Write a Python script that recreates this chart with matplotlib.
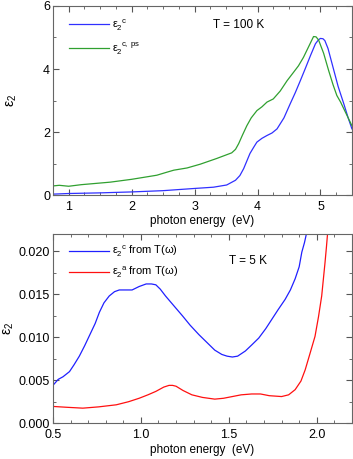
import matplotlib
matplotlib.use("Agg")
import matplotlib.pyplot as plt
from matplotlib.ticker import MultipleLocator

plt.rcParams['font.family'] = ['Liberation Sans', 'DejaVu Sans']
plt.rcParams['mathtext.fontset'] = 'custom'
plt.rcParams['mathtext.rm'] = 'Liberation Sans'
plt.rcParams['mathtext.it'] = 'Liberation Sans'

# top panel, T = 100 K
e_c = [0.75, 1.0, 1.5, 2.0, 2.5, 3.0, 3.3, 3.51, 3.65, 3.72, 3.78, 3.83, 3.88, 3.94,
       3.99, 4.07, 4.15, 4.23, 4.31, 4.42, 4.52, 4.6, 4.68, 4.76, 4.84, 4.92, 4.97,
       5.0, 5.04, 5.07, 5.12, 5.2, 5.28, 5.37, 5.44, 5.5]
eps_c = [0.03, 0.05, 0.07, 0.1, 0.14, 0.21, 0.25, 0.32, 0.47, 0.62, 0.84, 1.08, 1.32, 1.52,
         1.68, 1.8, 1.89, 1.97, 2.1, 2.45, 2.9, 3.25, 3.63, 4.02, 4.42, 4.8, 4.93,
         4.97, 4.96, 4.9, 4.65, 4.05, 3.45, 2.9, 2.45, 2.1]

e_ps = [0.75, 0.85, 1.0, 1.2, 1.66, 2.0, 2.4, 2.55, 2.67, 2.88, 3.09, 3.35, 3.59, 3.65,
        3.7, 3.76, 3.83, 3.9, 3.99, 4.07, 4.15, 4.25, 4.36, 4.47, 4.57, 4.65, 4.73,
        4.81, 4.89, 4.93, 4.97, 5.05, 5.13, 5.2, 5.26, 5.32, 5.37, 5.44, 5.5]
eps_ps = [0.29, 0.31, 0.28, 0.33, 0.41, 0.5, 0.63, 0.72, 0.79, 0.86, 0.98, 1.16, 1.34, 1.45,
          1.63, 1.9, 2.2, 2.45, 2.68, 2.8, 2.95, 3.05, 3.3, 3.63, 3.89, 4.1, 4.37,
          4.7, 5.03, 5.02, 4.92, 4.5, 3.95, 3.5, 3.16, 2.95, 2.74, 2.45, 2.2]

# bottom panel, T = 5 K
e_tc = [0.5, 0.53, 0.557, 0.594, 0.62, 0.65, 0.68, 0.71, 0.74, 0.764, 0.79, 0.82, 0.85,
        0.877, 0.92, 0.95, 0.99, 1.03, 1.06, 1.085, 1.11, 1.14, 1.19, 1.236, 1.28, 1.33,
        1.38, 1.42, 1.46, 1.49, 1.52, 1.55, 1.594, 1.63, 1.67, 1.71, 1.745, 1.78, 1.82,
        1.85, 1.877, 1.9, 1.915, 1.93, 1.943]
eps_tc = [0.0044, 0.0051, 0.0054, 0.006, 0.0068, 0.0078, 0.009, 0.0103, 0.0116, 0.0129,
          0.014, 0.0148, 0.0153, 0.0155, 0.0155, 0.0155, 0.0159, 0.0162, 0.0162, 0.0161,
          0.0156, 0.0148, 0.0136, 0.0125, 0.0114, 0.0103, 0.0093, 0.0085, 0.008, 0.0078,
          0.0077, 0.0078, 0.0084, 0.0091, 0.0099, 0.011, 0.0121, 0.0132, 0.0144, 0.0155,
          0.0168, 0.0182, 0.0199, 0.021, 0.0222]

e_ta = [0.5, 0.58, 0.67, 0.76, 0.86, 0.93, 0.99, 1.04, 1.085, 1.13, 1.16, 1.18, 1.2,
        1.24, 1.29, 1.35, 1.42, 1.47, 1.52, 1.57, 1.63, 1.68, 1.73, 1.8, 1.84, 1.877,
        1.91, 1.934, 1.96, 1.99, 2.01, 2.028, 2.047, 2.055, 2.062]
eps_ta = [0.00195, 0.00185, 0.00175, 0.0019, 0.00214, 0.0025, 0.0029, 0.0033, 0.0037,
          0.0042, 0.0044, 0.0044, 0.0043, 0.0038, 0.0033, 0.003, 0.0028, 0.0029, 0.0031,
          0.0033, 0.0034, 0.0034, 0.0032, 0.0031, 0.0033, 0.0039, 0.0049, 0.0062, 0.008,
          0.0101, 0.0124, 0.0148, 0.0187, 0.0205, 0.0222]

fig = plt.figure(figsize=(3.53, 4.59), dpi=100)
ax1 = fig.add_axes([0.150, 0.575, 0.847, 0.412])
ax2 = fig.add_axes([0.150, 0.078, 0.847, 0.412])

ax1.plot(e_c, eps_c, color='#3030ff', lw=0.9, label=r'$\varepsilon_2^{\;\;c}$')
ax1.plot(e_ps, eps_ps, color='#30a030', lw=0.9, label=r'$\varepsilon_2^{\;\;\mathrm{c,\ ps}}$')
ax1.set_xlim(0.75, 5.5)
ax1.set_ylim(0, 6)
ax1.xaxis.set_major_locator(MultipleLocator(1))
ax1.xaxis.set_minor_locator(MultipleLocator(0.25))
ax1.yaxis.set_major_locator(MultipleLocator(2))
ax1.yaxis.set_minor_locator(MultipleLocator(1))
ax1.set_xlabel('photon energy  (eV)', fontsize=8.5, labelpad=2)
ax1.set_ylabel(r'$\varepsilon_2$', fontsize=10)
ax1.yaxis.set_label_coords(-0.115, 0.5)
ax1.text(3.3, 5.3, 'T = 100 K', fontsize=8.5)
ax1.legend(loc='upper left', bbox_to_anchor=(0.02, 0.99), frameon=False, fontsize=8,
           handlelength=3.6, handletextpad=0.3, labelspacing=0.6)

ax2.plot(e_tc, eps_tc, color='#2020ff', lw=0.9, label=r'$\varepsilon_2^{\;\;c}$ from T($\omega$)')
ax2.plot(e_ta, eps_ta, color='#ff1010', lw=0.9, label=r'$\varepsilon_2^{\;\;a}$ from T($\omega$)')
ax2.set_xlim(0.5, 2.2)
ax2.set_ylim(0, 0.022)
ax2.xaxis.set_major_locator(MultipleLocator(0.5))
ax2.xaxis.set_minor_locator(MultipleLocator(0.1))
ax2.yaxis.set_major_locator(MultipleLocator(0.005))
ax2.yaxis.set_minor_locator(MultipleLocator(0.0025))
ax2.xaxis.set_major_formatter(plt.FormatStrFormatter('%.1f'))
ax2.yaxis.set_major_formatter(plt.FormatStrFormatter('%.3f'))
ax2.set_xlabel('photon energy  (eV)', fontsize=8.5, labelpad=2)
ax2.set_ylabel(r'$\varepsilon_2$', fontsize=10)
ax2.yaxis.set_label_coords(-0.125, 0.5)
ax2.text(1.5, 0.0185, 'T = 5 K', fontsize=8.5)
ax2.legend(loc='upper left', bbox_to_anchor=(0.02, 1.0), frameon=False, fontsize=8,
           handlelength=3.6, handletextpad=0.3, labelspacing=0.5)

for ax in (ax1, ax2):
    ax.tick_params(which='both', direction='in', top=True, right=True,
                   labelsize=9, colors='#555555', labelcolor='black')
    ax.tick_params(axis='y', pad=2)
    ax.tick_params(axis='x', pad=4)
    ax.tick_params(which='major', length=4)
    ax.tick_params(which='minor', length=2)
    for s in ax.spines.values():
        s.set_color('#666666')
        s.set_linewidth(0.8)

fig.savefig('out.png', dpi=100)
